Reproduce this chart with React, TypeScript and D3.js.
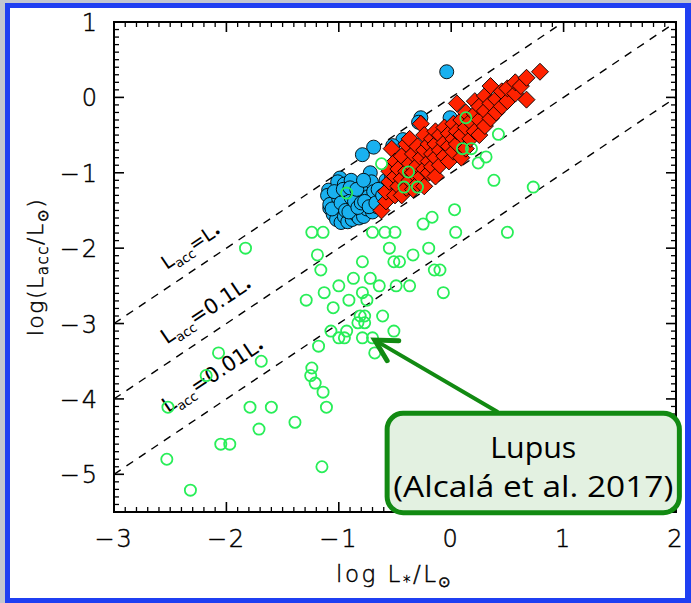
import React from "react";
import * as d3 from "d3";

// ---------- data ----------
const xDomain: [number, number] = [-3, 2];
const yDomain: [number, number] = [-5.5, 1];
const xMajorTicks = [-3, -2, -1, 0, 1, 2];
const yMajorTicks = [-5, -4, -3, -2, -1, 0, 1];
const xTickLabels = ["−3", "−2", "−1", "0", "1", "2"];
const yTickLabels = ["−5", "−4", "−3", "−2", "−1", "0", "1"];

// log Lacc = log L* + offset
const lineOffsets = [0, -1, -2];
const lineLabelFactors = ["", "0.1", "0.01"];
const lineLabelX = [-2.53, -2.53, -2.52];
const lineLabelY = [-2.29, -3.28, -4.19];

// Blue filled circles
const bluePoints: [number, number][] = [
  [-0.04, 0.34], [-0.69, -0.66], [-0.79, -0.76], [-0.99, -1.07], [-1.09, -1.23],
  [-1.08, -1.47], [-0.27, -0.27], [-0.29, -0.33], [-0.01, -0.27], [-0.43, -0.56],
  [-0.52, -0.64], [-0.72, -1.0], [-1.01, -1.12],
  [-1.1, -1.3], [-1.08, -1.42], [-1.05, -1.55], [-1.02, -1.62], [-0.98, -1.66],
  [-0.95, -1.58], [-0.92, -1.65], [-0.88, -1.62], [-0.85, -1.55], [-0.82, -1.6],
  [-0.8, -1.5], [-0.78, -1.58], [-0.75, -1.48], [-0.72, -1.4], [-0.7, -1.52],
  [-0.68, -1.35], [-0.66, -1.45], [-0.64, -1.3], [-0.62, -1.38], [-0.6, -1.22],
  [-1.0, -1.35], [-0.97, -1.45], [-0.93, -1.3], [-0.9, -1.4], [-0.87, -1.25],
  [-0.84, -1.35], [-0.81, -1.18], [-0.79, -1.28], [-0.76, -1.2], [-0.74, -1.32],
  [-0.71, -1.12], [-0.69, -1.25], [-1.04, -1.25], [-0.95, -1.15], [-0.89, -1.1],
  [-0.58, -1.1], [-0.56, -1.25], [-0.53, -1.05], [-1.06, -1.48], [-0.86, -1.45],
  [-0.98, -1.4], [-0.94, -1.5], [-0.91, -1.52], [-0.89, -1.33], [-0.86, -1.38],
  [-0.83, -1.46], [-0.8, -1.4], [-0.77, -1.38], [-0.73, -1.45], [-0.67, -1.4],
  [-0.65, -1.22], [-0.61, -1.3], [-0.96, -1.22], [-0.9, -1.2], [-0.84, -1.22],
  [-0.78, -1.1],
];

// Red filled diamonds
const redPoints: [number, number][] = [
  [-0.62, -1.5], [-0.58, -1.38], [-0.58, -1.25], [-0.55, -1.12], [-0.55, -0.98],
  [-0.53, -0.68], [-0.5, -1.3], [-0.5, -1.05], [-0.5, -0.85], [-0.47, -1.18],
  [-0.47, -0.95], [-0.44, -1.3], [-0.44, -1.08], [-0.44, -0.78], [-0.4, -1.2],
  [-0.4, -0.98], [-0.4, -0.62], [-0.37, -1.1], [-0.37, -0.88], [-0.37, -0.55],
  [-0.34, -1.22], [-0.34, -1.0], [-0.34, -0.75], [-0.3, -1.15], [-0.3, -0.9],
  [-0.3, -0.65], [-0.27, -1.05], [-0.27, -0.8], [-0.27, -0.35], [-0.24, -1.18],
  [-0.24, -0.95], [-0.24, -0.7], [-0.24, -0.5], [-0.2, -1.0], [-0.2, -0.85],
  [-0.2, -0.62], [-0.17, -0.92], [-0.17, -0.75], [-0.17, -0.55], [-0.14, -1.05],
  [-0.14, -0.8], [-0.14, -0.62], [-0.14, -0.45], [-0.1, -0.9], [-0.1, -0.7],
  [-0.1, -0.5], [-0.06, -0.78], [-0.06, -0.6], [-0.06, -0.4], [-0.02, -0.85],
  [-0.02, -0.65], [-0.02, -0.48], [0.02, -0.72], [0.02, -0.55], [0.02, -0.35],
  [0.05, -0.62], [0.05, -0.45], [0.05, -0.08], [0.09, -0.8], [0.09, -0.5],
  [0.09, -0.3], [0.13, -0.68], [0.13, -0.4], [0.13, -0.2], [0.17, -0.55],
  [0.17, -0.32], [0.21, -0.45], [0.21, -0.22], [0.21, -0.05], [0.25, -0.5],
  [0.25, -0.3], [0.25, -0.12], [0.3, -0.38], [0.3, -0.18], [0.3, 0.02],
  [0.35, -0.28], [0.35, -0.08], [0.35, 0.15], [0.4, -0.2], [0.4, -0.02],
  [0.45, -0.12], [0.45, 0.08], [0.5, -0.05], [0.5, 0.12], [0.57, 0.05],
  [0.57, 0.2], [0.62, 0.15], [0.67, -0.03], [0.67, 0.26], [0.79, 0.34],
];

// Green open circles (Lupus)
const greenPoints: [number, number][] = [
  [-1.83, -2.0], [-1.24, -1.79], [-1.14, -1.79], [-0.7, -1.79], [-0.59, -1.79],
  [-0.5, -1.79], [-1.19, -2.09], [-1.16, -2.29], [-0.55, -2.0], [-0.51, -2.18],
  [-0.46, -2.18], [-0.79, -2.18], [-0.87, -2.4], [-0.72, -2.4], [-0.64, -2.5],
  [-1.0, -2.5], [-1.29, -2.69], [-1.13, -2.59], [-1.05, -2.79], [-0.91, -2.69],
  [-0.79, -2.59], [-0.75, -2.69], [-0.61, -2.9], [-0.81, -2.9], [-0.77, -2.9],
  [-0.83, -2.99], [-0.77, -2.99], [-1.07, -3.1], [-0.93, -3.1], [-1.0, -3.19],
  [-0.95, -3.19], [-0.79, -3.19], [-0.7, -3.19], [-0.51, -3.1], [-1.18, -3.3],
  [-0.68, -3.39], [-2.07, -3.39], [-1.69, -3.5], [-2.18, -3.69], [-1.24, -3.59],
  [-1.25, -3.69], [-1.21, -3.79], [-1.14, -3.91], [-2.52, -4.11], [-1.79, -4.11],
  [-1.6, -4.11], [-1.11, -4.11], [-1.39, -4.31], [-1.71, -4.4], [-2.05, -4.6],
  [-1.97, -4.6], [-2.53, -4.8], [-1.15, -4.9], [-2.32, -5.21], [-0.37, -2.5],
  [-0.49, -2.5], [-0.07, -2.59], [-0.15, -2.29], [-0.1, -2.29], [-0.34, -2.09],
  [-0.2, -2.0], [0.03, -1.49], [-0.17, -1.59], [-0.25, -1.68], [0.04, -1.79],
  [0.5, -1.79], [0.13, -0.27], [0.42, -0.49], [0.1, -0.68], [0.18, -0.68],
  [0.31, -0.79], [0.24, -0.87], [0.38, -1.1], [0.73, -1.19], [-0.62, -0.88],
  [-0.38, -0.99], [-0.42, -1.19], [-0.3, -1.19], [-0.93, -1.27],
];

const annotationLines = ["Lupus", "(Alcalá et al. 2017)"];

// ---------- layout ----------
const W = 691;
const H = 603;
const plotLeft = 114;
const plotRight = 676;
const plotTop = 22;
const plotBottom = 512;

const AXIS_FONT = "'DejaVu Sans', sans-serif";
const NOTE_FONT = "'Open Sans', 'Noto Sans', sans-serif";
const thinText = { fontWeight: 300, stroke: "#000", strokeWidth: 0.45 } as const;

export default function App() {
  const x = d3.scaleLinear().domain(xDomain).range([plotLeft, plotRight]);
  const y = d3.scaleLinear().domain(yDomain).range([plotBottom, plotTop]);

  const xMinor = d3.range(-30, 21).map((v) => v / 10).filter((v) => Math.abs(v - Math.round(v)) > 1e-6);
  const yMinor = d3.range(-55, 11).map((v) => v / 10).filter((v) => Math.abs(v - Math.round(v)) > 1e-6);

  const angle = (Math.atan2(y(0) - y(1), x(1) - x(0)) * 180) / Math.PI;

  const diamond = (s: number) => `M0,${-s}L${s},0L0,${s}L${-s},0Z`;

  const majorLen = 10;
  const minorLen = 5;

  // annotation geometry (data space)
  const boxX0 = x(-0.57);
  const boxX1 = x(2.03);
  const boxY0 = y(-4.19);
  const boxY1 = y(-5.51);
  const arrowStart: [number, number] = [x(0.41), y(-4.17)];
  const arrowTip: [number, number] = [x(-0.68), y(-3.22)];
  const ang = Math.atan2(arrowStart[1] - arrowTip[1], arrowStart[0] - arrowTip[0]);
  const headLen = 24;
  const headSpread = 0.5;
  const w1: [number, number] = [
    arrowTip[0] + headLen * Math.cos(ang - headSpread),
    arrowTip[1] + headLen * Math.sin(ang - headSpread),
  ];
  const w2: [number, number] = [
    arrowTip[0] + headLen * Math.cos(ang + headSpread),
    arrowTip[1] + headLen * Math.sin(ang + headSpread),
  ];

  return (
    <svg
      width={W}
      height={H}
      style={{ position: "absolute", left: 0, top: 0, display: "block" }}
      xmlns="http://www.w3.org/2000/svg"
    >
      <defs>
        <clipPath id="plotClip">
          <rect x={plotLeft} y={plotTop} width={plotRight - plotLeft} height={plotBottom - plotTop} />
        </clipPath>
      </defs>
      {/* slide frame */}
      <rect x={0} y={0} width={W} height={H} fill="#c3c7d0" />
      <rect x={5} y={3} width={W - 5} height={H - 3} fill="#1f3ff2" />
      <rect x={10} y={8} width={W - 16} height={H - 13} fill="#ffffff" />

      {/* dashed relation lines */}
      <g clipPath="url(#plotClip)">
        {lineOffsets.map((off, i) => (
          <line
            key={i}
            x1={x(-3)}
            y1={y(-3 + off)}
            x2={x(2)}
            y2={y(2 + off)}
            stroke="#000"
            strokeWidth={1.4}
            strokeDasharray="8,7"
          />
        ))}
      </g>

      {/* line labels */}
      {lineLabelFactors.map((f, i) => (
        <text
          key={i}
          transform={`translate(${x(lineLabelX[i])},${y(lineLabelY[i])}) rotate(${-angle})`}
          fontFamily={AXIS_FONT}
          fontSize={i === 0 ? 19 : 21}
          fill="#000"
        >
          <tspan>L</tspan>
          <tspan fontSize={13} dy={5}>acc</tspan>
          <tspan dy={-5}>={f}L</tspan>
          <tspan fontSize={13} dy={2}>•</tspan>
        </text>
      ))}

      {/* data */}
      <g clipPath="url(#plotClip)">
        {bluePoints.map((p, i) => (
          <circle key={"b" + i} cx={x(p[0])} cy={y(p[1])} r={7} fill="#19b1f0" stroke="#000" strokeWidth={0.9} />
        ))}
        {redPoints.map((p, i) => (
          <path
            key={"r" + i}
            d={diamond(8.5)}
            transform={`translate(${x(p[0])},${y(p[1])})`}
            fill="#ff2200"
            stroke="#000"
            strokeWidth={0.9}
          />
        ))}
        {greenPoints.map((p, i) => (
          <circle key={"g" + i} cx={x(p[0])} cy={y(p[1])} r={5.6} fill="none" stroke="#28ee58" strokeWidth={1.8} />
        ))}
      </g>

      {/* axes box */}
      <rect
        x={plotLeft}
        y={plotTop}
        width={plotRight - plotLeft}
        height={plotBottom - plotTop}
        fill="none"
        stroke="#000"
        strokeWidth={2}
      />
      {xMajorTicks.map((v) => (
        <g key={"xm" + v}>
          <line x1={x(v)} x2={x(v)} y1={plotBottom} y2={plotBottom - majorLen} stroke="#000" strokeWidth={1.6} />
          <line x1={x(v)} x2={x(v)} y1={plotTop} y2={plotTop + majorLen} stroke="#000" strokeWidth={1.6} />
        </g>
      ))}
      {xMinor.map((v) => (
        <g key={"xn" + v}>
          <line x1={x(v)} x2={x(v)} y1={plotBottom} y2={plotBottom - minorLen} stroke="#000" strokeWidth={1.3} />
          <line x1={x(v)} x2={x(v)} y1={plotTop} y2={plotTop + minorLen} stroke="#000" strokeWidth={1.3} />
        </g>
      ))}
      {yMajorTicks.map((v) => (
        <g key={"ym" + v}>
          <line y1={y(v)} y2={y(v)} x1={plotLeft} x2={plotLeft + majorLen} stroke="#000" strokeWidth={1.6} />
          <line y1={y(v)} y2={y(v)} x1={plotRight} x2={plotRight - majorLen} stroke="#000" strokeWidth={1.6} />
        </g>
      ))}
      {yMinor.map((v) => (
        <g key={"yn" + v}>
          <line y1={y(v)} y2={y(v)} x1={plotLeft} x2={plotLeft + minorLen} stroke="#000" strokeWidth={1.3} />
          <line y1={y(v)} y2={y(v)} x1={plotRight} x2={plotRight - minorLen} stroke="#000" strokeWidth={1.3} />
        </g>
      ))}

      {/* tick labels */}
      {xMajorTicks.map((v, i) => (
        <text
          key={"xl" + v}
          x={x(v)}
          y={547}
          textAnchor="middle"
          fontFamily={AXIS_FONT}
          {...thinText}
          fontSize={24}
          letterSpacing={2}
          fill="#000"
        >
          {xTickLabels[i]}
        </text>
      ))}
      {yMajorTicks.map((v, i) => (
        <text
          key={"yl" + v}
          x={plotLeft - 15}
          y={y(v) + 9}
          textAnchor="end"
          fontFamily={AXIS_FONT}
          {...thinText}
          fontSize={24}
          letterSpacing={2}
          fill="#000"
        >
          {yTickLabels[i]}
        </text>
      ))}

      {/* axis titles */}
      <text
        x={(plotLeft + plotRight) / 2}
        y={582}
        textAnchor="middle"
        fontFamily={AXIS_FONT}
        {...thinText}
        fontSize={23}
        letterSpacing={2.5}
        fill="#000"
      >
        <tspan>log L</tspan>
        <tspan fontSize={15} dy={5}>*</tspan>
        <tspan dy={-5}>/L</tspan>
        <tspan fontSize={15} dy={5}>⊙</tspan>
      </text>
      <text
        transform={`translate(43,${(plotTop + plotBottom) / 2}) rotate(-90)`}
        textAnchor="middle"
        fontFamily={AXIS_FONT}
        {...thinText}
        fontSize={22}
        letterSpacing={1.5}
        fill="#000"
      >
        <tspan>log(L</tspan>
        <tspan fontSize={15} dy={5}>acc</tspan>
        <tspan dy={-5}>/L</tspan>
        <tspan fontSize={15} dy={5}>⊙</tspan>
        <tspan dy={-5}>)</tspan>
      </text>

      {/* annotation */}
      <line
        x1={arrowStart[0]}
        y1={arrowStart[1]}
        x2={arrowTip[0]}
        y2={arrowTip[1]}
        stroke="#128a12"
        strokeWidth={4}
        strokeLinecap="round"
      />
      <polyline
        points={`${w1[0]},${w1[1]} ${arrowTip[0]},${arrowTip[1]} ${w2[0]},${w2[1]}`}
        fill="none"
        stroke="#128a12"
        strokeWidth={5}
        strokeLinecap="round"
        strokeLinejoin="miter"
      />
      <rect
        x={boxX0}
        y={boxY0}
        width={boxX1 - boxX0}
        height={boxY1 - boxY0}
        rx={16}
        ry={16}
        fill="#e3f1e1"
        stroke="#128a12"
        strokeWidth={5}
      />
      <text
        x={(boxX0 + boxX1) / 2}
        y={boxY0 + 45}
        textAnchor="middle"
        fontFamily={NOTE_FONT}
        fontSize={30}
        textLength={86}
        lengthAdjust="spacingAndGlyphs"
        fill="#000"
      >
        {annotationLines[0]}
      </text>
      <text
        x={(boxX0 + boxX1) / 2}
        y={boxY0 + 84}
        textAnchor="middle"
        fontFamily={NOTE_FONT}
        fontSize={30}
        textLength={280}
        lengthAdjust="spacingAndGlyphs"
        fill="#000"
      >
        {annotationLines[1]}
      </text>
    </svg>
  );
}
